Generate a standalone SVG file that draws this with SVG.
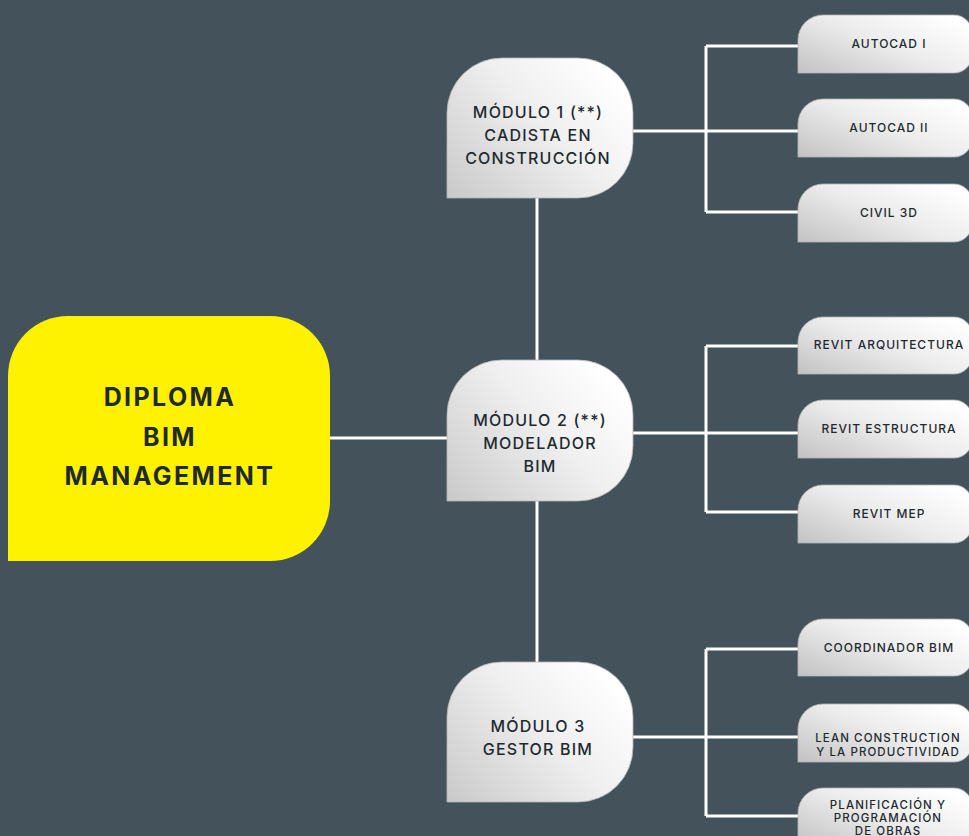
<svg xmlns="http://www.w3.org/2000/svg" width="969" height="836" viewBox="0 0 969 836">
<defs>
<linearGradient id="gm" x1="0" y1="1" x2="1" y2="0.3">
<stop offset="0" stop-color="#c9c9c9"/>
<stop offset="0.6" stop-color="#efefef"/>
<stop offset="1" stop-color="#ffffff"/>
</linearGradient>
<linearGradient id="gl" x1="0" y1="1" x2="1" y2="0.2">
<stop offset="0" stop-color="#c2c2c2"/>
<stop offset="0.55" stop-color="#ececec"/>
<stop offset="1" stop-color="#ffffff"/>
</linearGradient>
</defs>
<style>
.mod{fill:url(#gm);stroke:#b5b5b5;stroke-width:0.8}
.leaf{fill:url(#gl);stroke:#b5b5b5;stroke-width:0.8}
.mt{font-family:Inter,"Liberation Sans",sans-serif;font-size:16px;font-weight:500;letter-spacing:1.2px;fill:#1f2a30;text-anchor:middle}
.lt{font-family:Inter,"Liberation Sans",sans-serif;font-size:12px;font-weight:500;letter-spacing:1px;fill:#1f2a30;text-anchor:middle}
.st{font-family:Inter,"Liberation Sans",sans-serif;font-size:11.5px;font-weight:500;letter-spacing:1.1px;fill:#1f2a30;text-anchor:middle}
.yt{font-family:Inter,"Liberation Sans",sans-serif;font-size:25px;font-weight:700;letter-spacing:2.4px;fill:#1f2a30;text-anchor:middle}
.c{fill:none;stroke:#ffffff;stroke-width:3}
</style>
<rect width="969" height="836" fill="#44535b"/>
<g id="connectors">
<path class="c" d="M330,438 H447"/>
<path class="c" d="M537,198 V360 M537,501 V662"/>
<path class="c" d="M633,131 H798 M706,46 V212 M706,46 H798 M706,212 H798"/>
<path class="c" d="M633,433 H798 M706,346 V512 M706,346 H798 M706,512 H798"/>
<path class="c" d="M633,737 H798 M706,649 V816 M706,649 H798 M706,816 H798"/>
</g>
<g id="root">
<path d="M8,561 V376 A60 60 0 0 1 68,316 H270 A60 60 0 0 1 330,376 V501 A60 60 0 0 1 270,561 Z" fill="#fff200"/>
<text class="yt" x="170" y="406">DIPLOMA</text>
<text class="yt" x="170" y="446">BIM</text>
<text class="yt" x="170" y="485">MANAGEMENT</text>
</g>
<g id="modulo1">
<path class="mod" d="M447,198 V113 A55 55 0 0 1 502,58 H578 A55 55 0 0 1 633,113 V143 A55 55 0 0 1 578,198 Z"/>
<text class="mt" x="538" y="118">MÓDULO 1 (**)</text>
<text class="mt" x="538" y="141">CADISTA EN</text>
<text class="mt" x="538" y="164">CONSTRUCCIÓN</text>
</g>
<g id="modulo2">
<path class="mod" d="M447,501 V415 A55 55 0 0 1 502,360 H578 A55 55 0 0 1 633,415 V446 A55 55 0 0 1 578,501 Z"/>
<text class="mt" x="540" y="426">MÓDULO 2 (**)</text>
<text class="mt" x="540" y="449">MODELADOR</text>
<text class="mt" x="540" y="472">BIM</text>
</g>
<g id="modulo3">
<path class="mod" d="M447,802 V717 A55 55 0 0 1 502,662 H578 A55 55 0 0 1 633,717 V747 A55 55 0 0 1 578,802 Z"/>
<text class="mt" x="538" y="732">MÓDULO 3</text>
<text class="mt" x="538" y="755">GESTOR BIM</text>
</g>
<g id="autocad1">
<path class="leaf" d="M798,73 V40 A25 25 0 0 1 823,15 H954 A18 18 0 0 1 972,33 V55 A18 18 0 0 1 954,73 Z"/>
<text class="lt" x="889" y="48">AUTOCAD I</text>
</g>
<g id="autocad2">
<path class="leaf" d="M798,157 V124 A25 25 0 0 1 823,99 H954 A18 18 0 0 1 972,117 V139 A18 18 0 0 1 954,157 Z"/>
<text class="lt" x="889" y="132">AUTOCAD II</text>
</g>
<g id="civil3d">
<path class="leaf" d="M798,242 V209 A25 25 0 0 1 823,184 H954 A18 18 0 0 1 972,202 V224 A18 18 0 0 1 954,242 Z"/>
<text class="lt" x="889" y="217">CIVIL 3D</text>
</g>
<g id="revitarq">
<path class="leaf" d="M798,374 V342 A25 25 0 0 1 823,317 H954 A18 18 0 0 1 972,335 V356 A18 18 0 0 1 954,374 Z"/>
<text class="lt" x="889" y="349">REVIT ARQUITECTURA</text>
</g>
<g id="revitestr">
<path class="leaf" d="M798,458 V425 A25 25 0 0 1 823,400 H954 A18 18 0 0 1 972,418 V440 A18 18 0 0 1 954,458 Z"/>
<text class="lt" x="889" y="433">REVIT ESTRUCTURA</text>
</g>
<g id="revitmep">
<path class="leaf" d="M798,543 V510 A25 25 0 0 1 823,485 H954 A18 18 0 0 1 972,503 V525 A18 18 0 0 1 954,543 Z"/>
<text class="lt" x="889" y="518">REVIT MEP</text>
</g>
<g id="coordinador">
<path class="leaf" d="M798,676 V644 A25 25 0 0 1 823,619 H954 A18 18 0 0 1 972,637 V658 A18 18 0 0 1 954,676 Z"/>
<text class="lt" x="889" y="652">COORDINADOR BIM</text>
</g>
<g id="lean">
<path class="leaf" d="M798,762 V729 A25 25 0 0 1 823,704 H954 A18 18 0 0 1 972,722 V744 A18 18 0 0 1 954,762 Z"/>
<text class="st" x="888" y="742">LEAN CONSTRUCTION</text>
<text class="st" x="888" y="756">Y LA PRODUCTIVIDAD</text>
</g>
<g id="planificacion">
<path class="leaf" d="M798,846 V813 A25 25 0 0 1 823,788 H954 A18 18 0 0 1 972,806 V828 A18 18 0 0 1 954,846 Z"/>
<text class="st" x="888" y="809">PLANIFICACIÓN Y</text>
<text class="st" x="888" y="822">PROGRAMACIÓN</text>
<text class="st" x="888" y="835">DE OBRAS</text>
</g>
</svg>
